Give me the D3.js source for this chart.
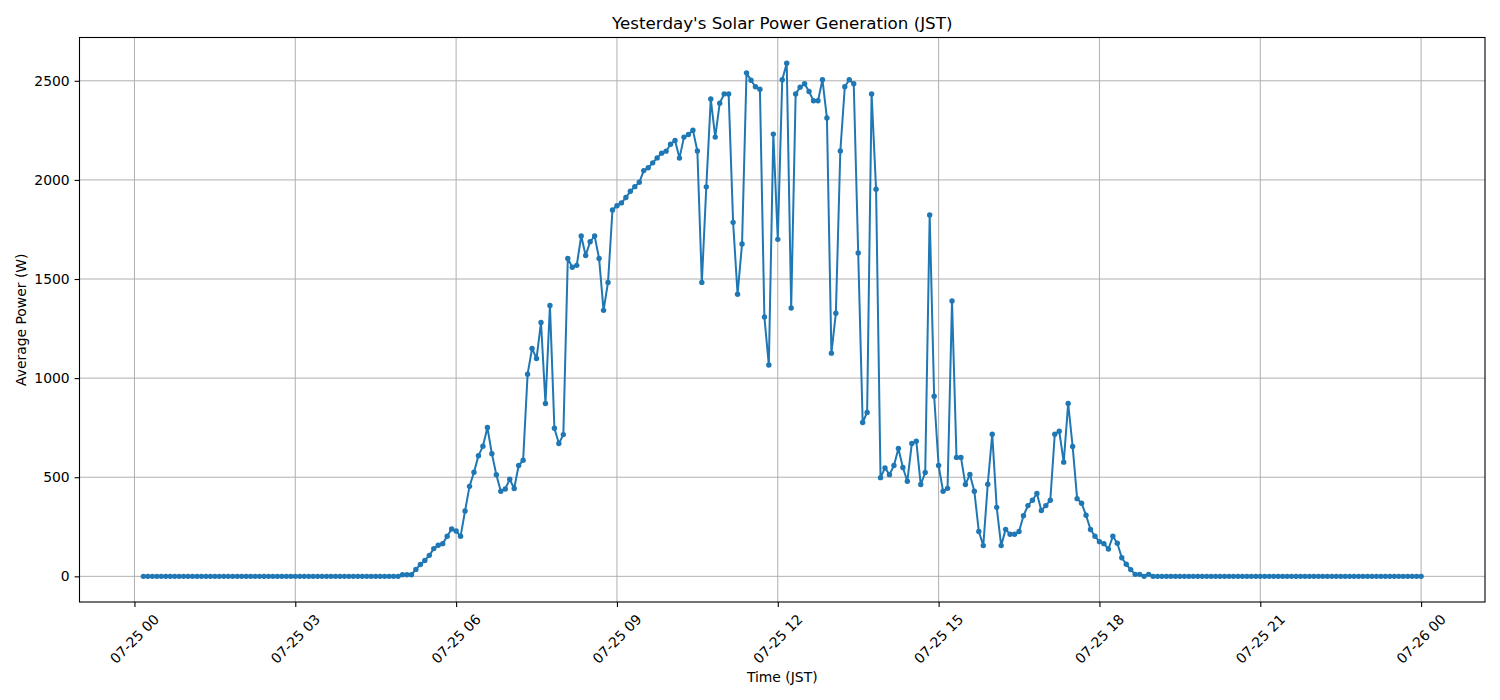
<!DOCTYPE html>
<html>
<head>
  <meta charset="utf-8">
  <title>Yesterday's Solar Power Generation (JST)</title>
  <script src="https://cdn.jsdelivr.net/npm/d3@7"></script>
  <style>
    body { margin: 0; background: #fff; }
    text { font-family: "DejaVu Sans", sans-serif; fill: #000; }
    .grid line { stroke: #b0b0b0; stroke-width: 1px; }
    .axis path, .axis line { stroke: #000; stroke-width: 1.1px; }
  </style>
</head>
<body>
<svg id="chart" width="1500" height="700"></svg>
<script>
  // 5-minute averages, 07-25 00:10 .. 07-26 00:00
  var startTime = '2024-07-25T00:10:00';
  var stepMinutes = 5;

  // 00:10 - 04:55 (58 readings)
  var nightBefore = [0,0,0,0,0,0,0,0,0,0, 0,0,0,0,0,0,0,0,0,0,
                     0,0,0,0,0,0,0,0,0,0, 0,0,0,0,0,0,0,0,0,0,
                     0,0,0,0,0,0,0,0,0,0, 0,0,0,0,0,0,0,0];

  // 05:00 - 19:00
  var daytime = [
    8, 8, 8, 35, 60, 80, 106, 140, 157, 165, 202, 239, 229, 202, 330, 454, 525, 609, 656, 751,
    619, 513, 429, 441, 490, 443, 559, 586, 1020, 1150, 1099, 1281, 872, 1367, 747, 670, 715, 1604, 1559, 1569,
    1717, 1619, 1688, 1717, 1604, 1342, 1483, 1848, 1870, 1884, 1911, 1943, 1966, 1988, 2047, 2061, 2086, 2111, 2135, 2145,
    2180, 2199, 2110, 2216, 2229, 2251, 2146, 1483, 1965, 2408, 2216, 2387, 2434, 2434, 1786, 1423, 1677, 2540, 2503, 2470,
    2458, 1308, 1066, 2231, 1700, 2505, 2589, 1354, 2434, 2468, 2485, 2446, 2399, 2399, 2505, 2312, 1126, 1327, 2146, 2470,
    2505, 2485, 1631, 776, 827, 2434, 1953, 498, 547, 513, 559, 645, 549, 480, 670, 682, 463, 524, 1823, 909,
    559, 429, 444, 1389, 600, 600, 463, 514, 429, 226, 155, 465, 717, 348, 155, 237, 212, 212, 226, 306,
    357, 384, 418, 332, 357, 384, 717, 732, 576, 872, 655, 392, 369, 308, 236, 202, 175, 165, 138, 202,
    167, 94, 61, 34, 10, 10, 0, 10, 0
  ];

  // 19:05 - 24:00 (60 readings)
  var nightAfter = [0,0,0,0,0,0,0,0,0,0, 0,0,0,0,0,0,0,0,0,0,
                    0,0,0,0,0,0,0,0,0,0, 0,0,0,0,0,0,0,0,0,0,
                    0,0,0,0,0,0,0,0,0,0, 0,0,0,0,0,0,0,0,0,0];

  var yTicks = [0, 500, 1000, 1500, 2000, 2500];
  var xTickHours = [0, 3, 6, 9, 12, 15, 18, 21, 24];

  var powerValues = nightBefore.concat(daytime, nightAfter);
  var t0 = new Date(startTime);
  var data = powerValues.map(function (v, i) {
    return { t: new Date(t0.getTime() + i * stepMinutes * 60000), v: v };
  });

  var margin = { top: 37.5, left: 79.5, right: 15, bottom: 98 };
  var width = 1500 - margin.left - margin.right;
  var height = 700 - margin.top - margin.bottom;

  var svg = d3.select('#chart');
  var g = svg.append('g')
    .attr('transform', 'translate(' + margin.left + ',' + margin.top + ')');

  // matplotlib-like 5% padding
  var tExt = d3.extent(data, function (d) { return d.t; });
  var tPad = (tExt[1] - tExt[0]) * 0.05;
  var vExt = d3.extent(data, function (d) { return d.v; });
  var vPad = (vExt[1] - vExt[0]) * 0.05;

  var x = d3.scaleTime()
    .domain([new Date(+tExt[0] - tPad), new Date(+tExt[1] + tPad)])
    .range([0, width]);
  var y = d3.scaleLinear()
    .domain([vExt[0] - vPad, vExt[1] + vPad])
    .range([height, 0]);

  var dayStart = new Date('2024-07-25T00:00:00');
  var xTicks = xTickHours.map(function (h) { return new Date(+dayStart + h * 3600000); });
  var fmt = d3.timeFormat('%m-%d %H');

  // grid
  g.append('g').attr('class', 'grid')
    .selectAll('line.v').data(xTicks).enter().append('line')
      .attr('x1', function (d) { return x(d); })
      .attr('x2', function (d) { return x(d); })
      .attr('y1', 0).attr('y2', height);
  g.append('g').attr('class', 'grid')
    .selectAll('line.h').data(yTicks).enter().append('line')
      .attr('x1', 0).attr('x2', width)
      .attr('y1', function (d) { return y(d); })
      .attr('y2', function (d) { return y(d); });

  // line + markers
  var line = d3.line()
    .x(function (d) { return x(d.t); })
    .y(function (d) { return y(d.v); });

  g.append('path')
    .datum(data)
    .attr('fill', 'none')
    .attr('stroke', '#1f77b4')
    .attr('stroke-width', 2)
    .attr('stroke-linejoin', 'round')
    .attr('d', line);

  g.append('g').selectAll('circle')
    .data(data).enter().append('circle')
      .attr('cx', function (d) { return x(d.t); })
      .attr('cy', function (d) { return y(d.v); })
      .attr('r', 2.7)
      .attr('fill', '#1f77b4');

  // frame
  g.append('rect')
    .attr('width', width).attr('height', height)
    .attr('fill', 'none').attr('stroke', '#000').attr('stroke-width', 1.1);

  // y axis
  var yAxis = g.append('g').attr('class', 'axis')
    .call(d3.axisLeft(y).tickValues(yTicks).tickSize(4.9).tickPadding(4.9).tickFormat(d3.format('d')));
  yAxis.select('.domain').remove();
  yAxis.selectAll('text').style('font-size', '13.9px');

  // x axis with rotated labels
  var xAxis = g.append('g').attr('class', 'axis')
    .attr('transform', 'translate(0,' + height + ')')
    .call(d3.axisBottom(x).tickValues(xTicks).tickSize(4.9).tickFormat(''));
  xAxis.select('.domain').remove();

  var labels = g.append('g').selectAll('text.xl')
    .data(xTicks).enter().append('text')
      .attr('class', 'xl')
      .style('font-size', '13.9px')
      .attr('text-anchor', 'middle')
      .attr('dominant-baseline', 'central')
      .text(function (d) { return fmt(d); });
  labels.each(function (d) {
    var w = this.getComputedTextLength();
    var h = 13.9;
    var boxH = (w + h) * Math.SQRT1_2;
    var cx = x(d);
    var cy = height + 4.9 + 4.9 + boxH / 2;
    d3.select(this)
      .attr('x', cx).attr('y', cy)
      .attr('transform', 'rotate(-45,' + cx + ',' + cy + ')');
  });

  // titles
  svg.append('text')
    .attr('x', margin.left + width / 2)
    .attr('y', 29)
    .attr('text-anchor', 'middle')
    .style('font-size', '16.7px')
    .text("Yesterday's Solar Power Generation (JST)");

  svg.append('text')
    .attr('x', margin.left + width / 2)
    .attr('y', 682)
    .attr('text-anchor', 'middle')
    .style('font-size', '13.9px')
    .text('Time (JST)');

  svg.append('text')
    .attr('transform', 'translate(26,' + (margin.top + height / 2) + ') rotate(-90)')
    .attr('text-anchor', 'middle')
    .style('font-size', '13.9px')
    .text('Average Power (W)');
</script>
</body>
</html>
